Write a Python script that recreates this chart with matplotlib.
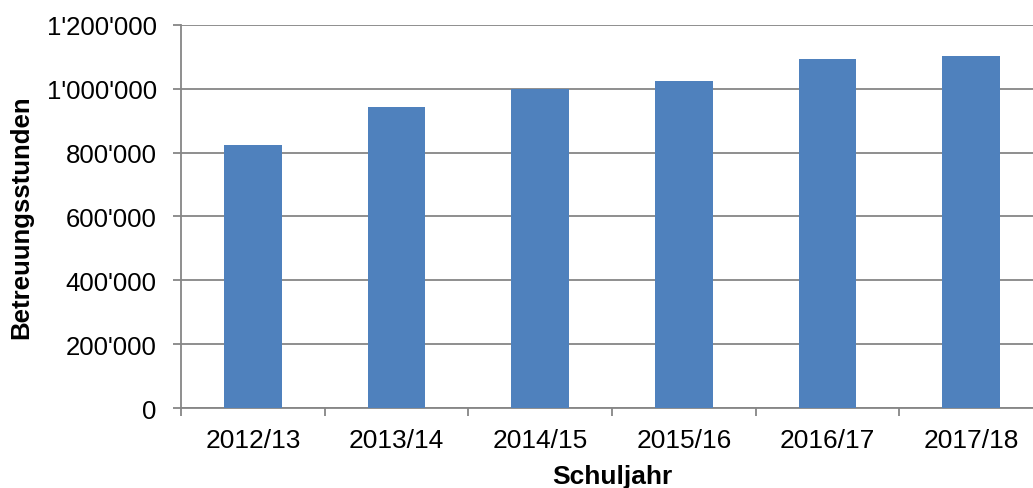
import matplotlib
matplotlib.use("Agg")
import matplotlib.pyplot as plt
import numpy as np
from matplotlib.ticker import FuncFormatter, FixedLocator

plt.rcParams['font.family'] = ['Liberation Sans', 'DejaVu Sans']

jahre = ['2012/13', '2013/14', '2014/15', '2015/16', '2016/17', '2017/18']
stunden = [824000, 942500, 998000, 1023000, 1091500, 1101000]

grau = '#868686'
blau = '#4F81BD'

fig = plt.figure(figsize=(10.33, 4.89), dpi=100)
ax = fig.add_axes([0.1752, 0.163, 0.8345, 0.7845])

x = np.arange(len(jahre))
ax.bar(x, stunden, width=0.4, color=blau, zorder=3)

ax.set_xlim(-0.5, len(jahre) - 0.5)
ax.set_ylim(0, 1200000)
ax.set_yticks(np.arange(0, 1200001, 200000))
ax.yaxis.set_major_formatter(FuncFormatter(lambda v, p: f"{int(v):,}".replace(",", "'")))
ax.grid(axis='y', color=grau, linewidth=1.3, zorder=0)

# ticks at category borders, labels at centers
ax.xaxis.set_major_locator(FixedLocator(np.arange(-0.5, len(jahre), 1.0)))
ax.xaxis.set_major_formatter(FuncFormatter(lambda v, p: ''))
ax.xaxis.set_minor_locator(FixedLocator(x))
ax.set_xticklabels(jahre, minor=True)
ax.tick_params(axis='x', which='major', length=5.5, width=1.3, color=grau)
ax.tick_params(axis='x', which='minor', length=0, pad=14, labelsize=19)
ax.tick_params(axis='y', length=5.5, width=1.3, color=grau, pad=12, labelsize=18.5)

for s in ['top', 'right']:
    ax.spines[s].set_visible(False)
for s in ['left', 'bottom']:
    ax.spines[s].set_color(grau)
    ax.spines[s].set_linewidth(1.3)

ax.set_xlabel('Schuljahr', fontsize=19, fontweight='bold', labelpad=9)
ax.set_ylabel('Betreuungsstunden', fontsize=18.5, fontweight='bold')
ax.yaxis.label.set_va('center')
ax.yaxis.set_label_coords(-0.185, 0.5)

fig.savefig('out.png', dpi=100)
